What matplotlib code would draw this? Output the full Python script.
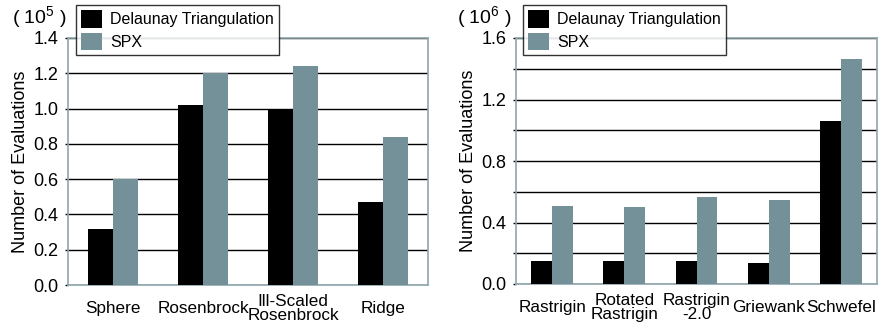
import numpy as np
import matplotlib.pyplot as plt

plt.rcParams['font.family'] = ['Liberation Sans', 'DejaVu Sans']
plt.rcParams['mathtext.fontset'] = 'custom'
plt.rcParams['mathtext.rm'] = 'Liberation Sans'

# data (left: x1e5, right: x1e6)
funcs_left = ["Sphere", "Rosenbrock", "Ill-Scaled\nRosenbrock", "Ridge"]
dt_left = [0.32, 1.02, 0.99, 0.47]
spx_left = [0.60, 1.20, 1.24, 0.84]

funcs_right = ["Rastrigin", "Rotated\nRastrigin", "Rastrigin\n-2.0", "Griewank", "Schwefel"]
dt_right = [0.15, 0.15, 0.15, 0.135, 1.06]
spx_right = [0.51, 0.50, 0.565, 0.545, 1.465]

c_dt = "black"
c_spx = "#74919a"
c_spine = "#8ea6ad"

fig = plt.figure(figsize=(8.88, 3.27), dpi=100)
ax1 = fig.add_axes([68/888, 1-285/327, 360/888, 247/327])
ax2 = fig.add_axes([516/888, 1-284/327, 361/888, 246/327])


def draw(ax, names, dt, spx, width, ymax, step, labstep):
    x = np.arange(len(names))
    ax.bar(x - width/2, dt, width, color=c_dt, label="Delaunay Triangulation", zorder=3)
    ax.bar(x + width/2, spx, width, color=c_spx, label="SPX", zorder=3)
    ax.set_xlim(-0.5, len(names) - 0.5)
    ax.set_ylim(0, ymax)
    ticks = np.round(np.arange(0, ymax + 1e-9, step), 2)
    ax.set_yticks(ticks)
    ax.set_yticklabels(["%.1f" % t if abs(t / labstep - round(t / labstep)) < 1e-6 else "" for t in ticks])
    ax.yaxis.grid(True, color="black", lw=1, zorder=1)
    ax.set_axisbelow(True)
    for s in ax.spines.values():
        s.set_color(c_spine)
        s.set_linewidth(1.2)
    ax.set_xticks(x)
    ax.set_xticklabels(names, fontsize=12.3, linespacing=0.9)
    ax.tick_params(axis="x", length=0, pad=17)
    plt.setp(ax.get_xticklabels(), va="center")
    ax.tick_params(axis="y", length=2, width=1, color="black", labelsize=13, pad=5)
    ax.set_ylabel("Number of Evaluations", fontsize=13, labelpad=3)


draw(ax1, funcs_left, dt_left, spx_left, 0.28, 1.4, 0.2, 0.2)
draw(ax2, funcs_right, dt_right, spx_right, 0.29, 1.6, 0.2, 0.4)

fig.text(12/888, 1-17/327, r"( $\mathregular{10^{5}}$ )", fontsize=14, va="center")
fig.text(457/888, 1-17/327, r"( $\mathregular{10^{6}}$ )", fontsize=14, va="center")

for ax, x0 in [(ax1, 76), (ax2, 523)]:
    leg = ax.legend(loc="upper left", bbox_to_anchor=(x0/888, 1-5/327),
                    bbox_transform=fig.transFigure, fontsize=11.5, frameon=True,
                    fancybox=False, handlelength=1.35, handleheight=1.35,
                    borderpad=0.3, labelspacing=0.3, handletextpad=0.5,
                    borderaxespad=0)
    leg.get_frame().set_edgecolor("black")
    leg.get_frame().set_linewidth(1)
    leg.set_zorder(10)

fig.savefig("out.png", dpi=100)
